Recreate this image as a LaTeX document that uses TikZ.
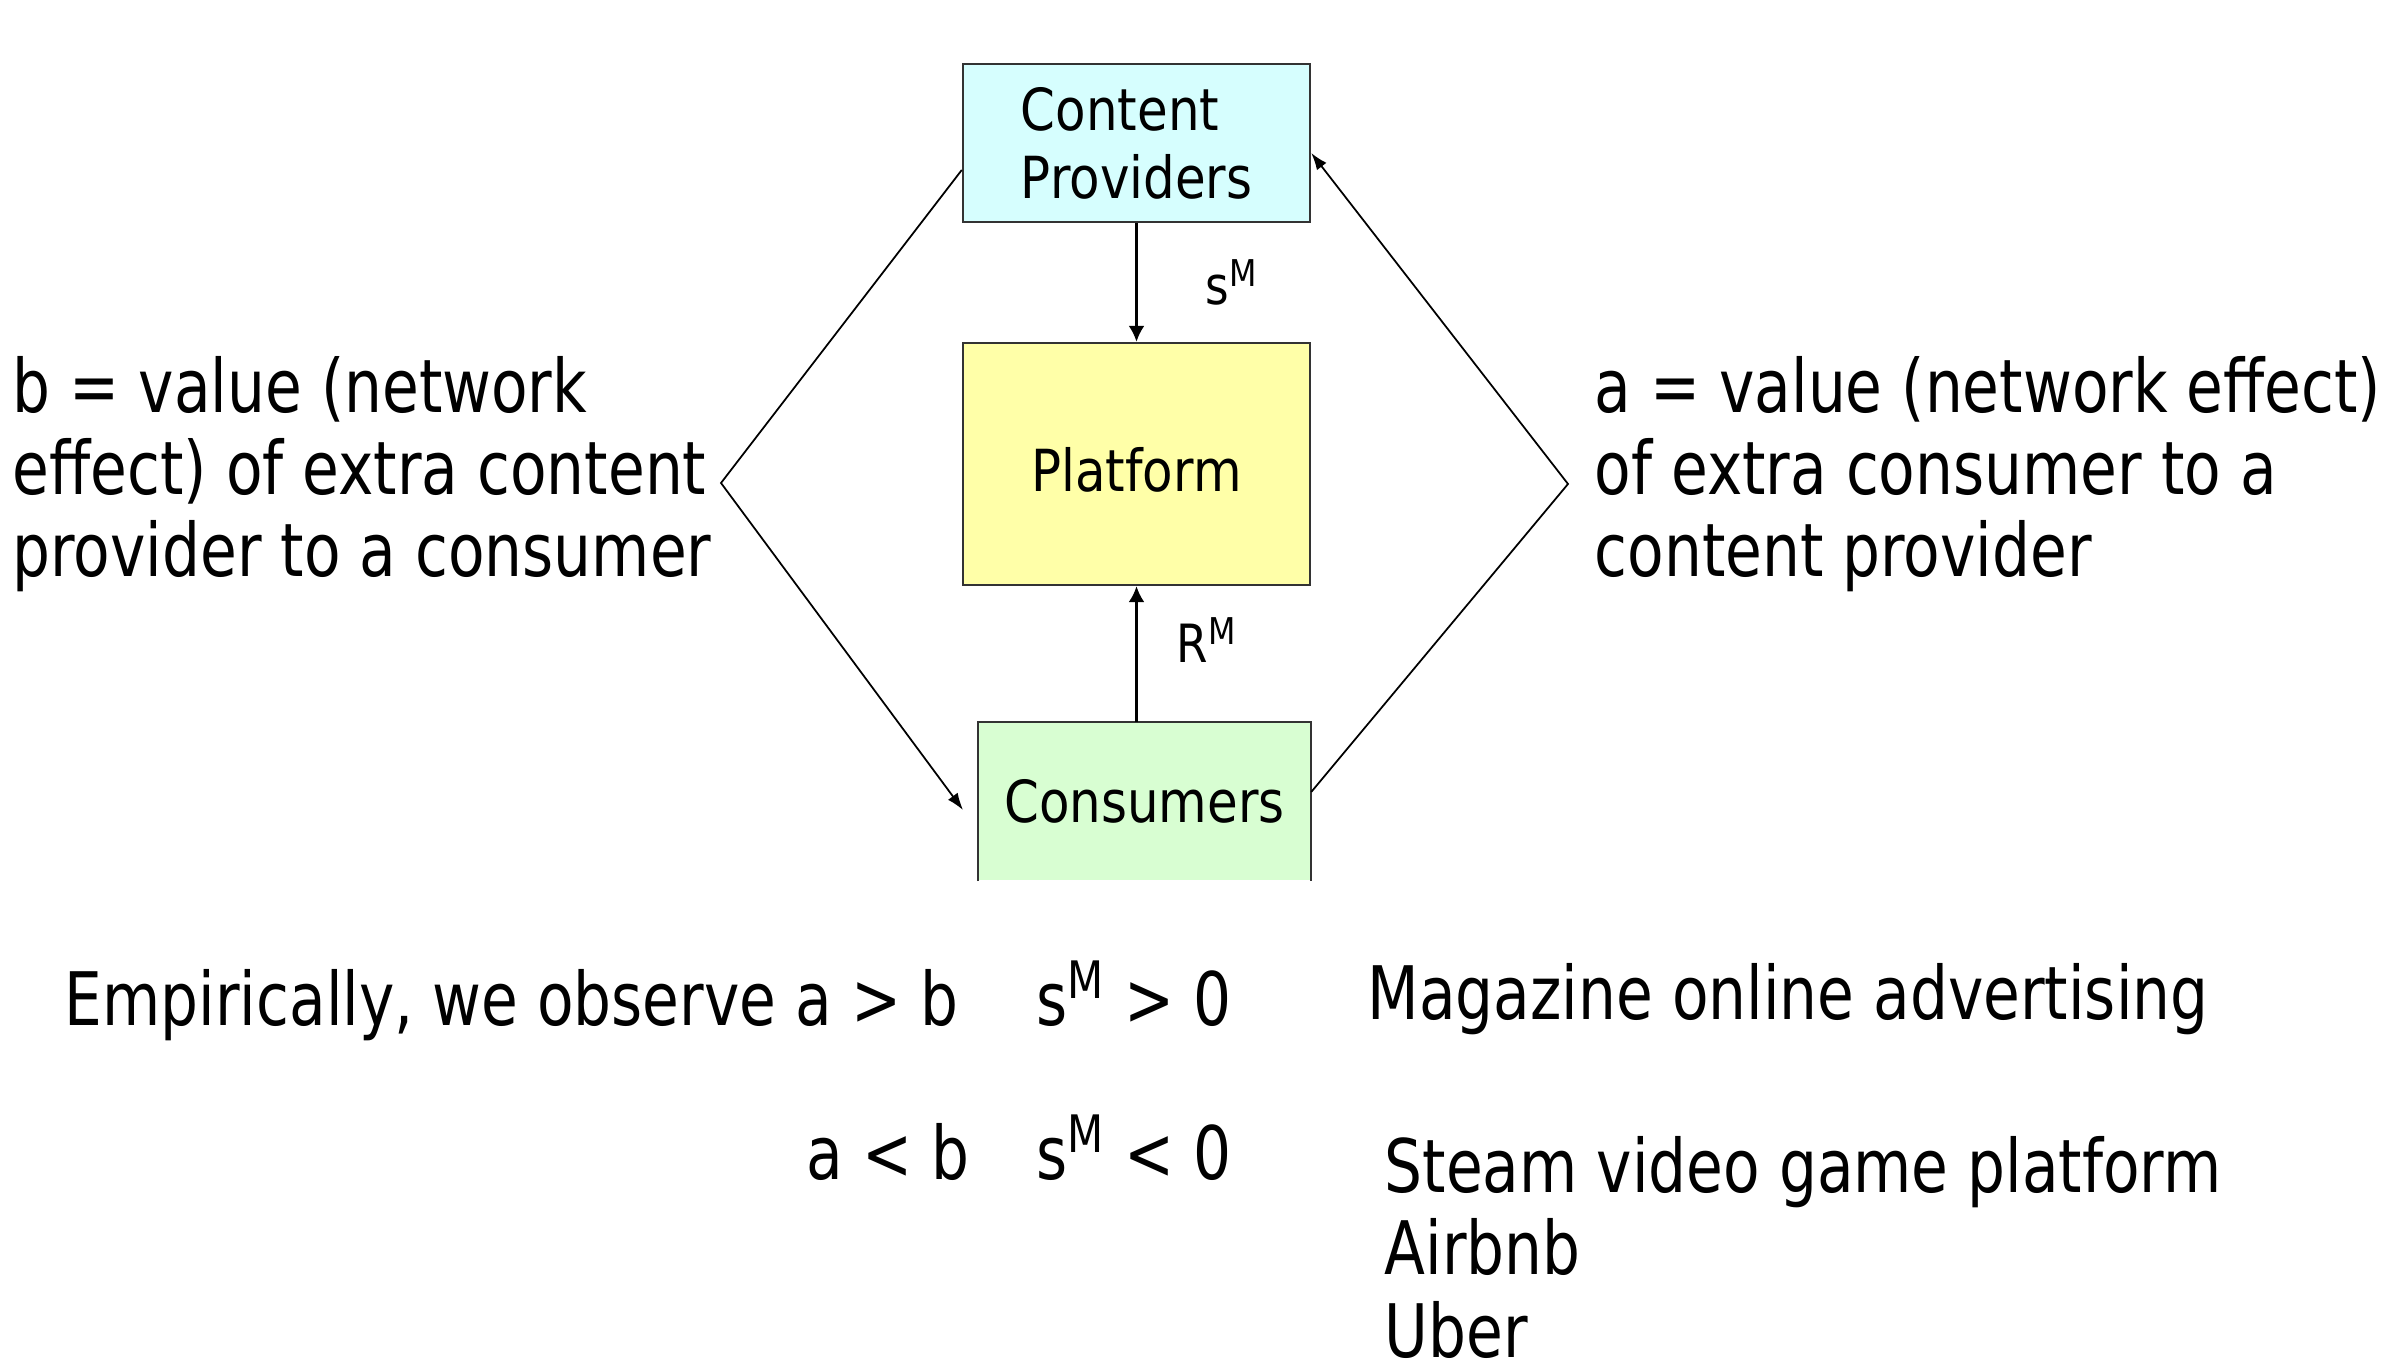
\documentclass[tikz,border=0pt]{standalone}
\usepackage{fontspec}
\setmainfont{DejaVu Sans}[FakeStretch=0.81]
\newfontfamily\boxfont{DejaVu Sans}[FakeStretch=0.86]
\usetikzlibrary{arrows.meta}

\definecolor{provcyan}{HTML}{D6FEFE}
\definecolor{platyellow}{HTML}{FFFFA8}
\definecolor{consgreen}{HTML}{D8FED2}

\begin{document}
\begin{tikzpicture}[x=0.1mm, y=-0.1mm,
		box/.style={draw=black!80, line width=0.7pt, inner sep=0pt, align=left,
			font=\boxfont\fontsize{16.5}{19.3}\selectfont},
		boxline/.style={draw=black!80, line width=0.7pt},
		conn/.style={-{Latex[length=1.6mm, width=1.6mm]}, line width=0.65pt},
		side/.style={line width=0.5pt},
		txt/.style={anchor=base west, inner sep=0pt, align=left,
			font=\fontsize{21}{23.4}\selectfont},
		lbl/.style={anchor=base west, inner sep=0pt, font=\boxfont\fontsize{15}{17}\selectfont}]
		\useasboundingbox[fill=white] (0, 0) rectangle (2394, 1368);

		% the three sides
		\node[box, fill=provcyan, minimum width=34.7mm, minimum height=15.8mm] (prov) at (1136.5, 143) {Content\\Providers};
		\node[box, fill=platyellow, minimum width=34.7mm, minimum height=24.2mm] (plat) at (1136.5, 464) {\raisebox{-2.8mm}[0pt][0pt]{Platform}};
		\node[box, draw=none, fill=consgreen, minimum width=33.1mm, minimum height=15.7mm] (cons) at (1144.5, 801.5) {Consumers};
		\draw[boxline] (cons.south west) -- (cons.north west) -- (cons.north east) -- (cons.south east);

		\draw[conn] (prov.south) -- (plat.north);
		\draw[conn] (cons.north -| plat.south) -- (plat.south);

		% network effects
		\coordinate (lv) at (721, 483);
		\coordinate (ltip) at (963, 810);
		\coordinate (rv) at (1568, 484);
		\draw[side, -{Latex[length=1.7mm, width=1.2mm]}] ([yshift=-2.7mm]prov.west) -- (lv) -- (ltip);
		\draw[side, -{Latex[length=1.7mm, width=1.2mm]}] ([yshift=0.95mm]cons.east) -- (rv) -- ([yshift=-1mm]prov.east);

		\node[lbl] (sm) at (1205, 305) {s\textsuperscript{M}};
		\node[lbl] (rm) at (1176, 663) {R\textsuperscript{M}};

		\node[txt] (btxt) at (12, 577) {b = value (network\\effect) of extra content\\provider to a consumer};
		\node[txt] (atxt) at (1594, 577) {a = value (network effect)\\of extra consumer to a\\content provider};

		% what is observed
		\node[txt] (emp) at (64, 1025) {Empirically, we observe a > b};
		\node[txt] (spos) at (1036, 1025) {s\textsuperscript{M} > 0};
		\node[txt] (aless) at (806, 1179) {a < b};
		\node[txt] (sneg) at (1036, 1179) {s\textsuperscript{M} < 0};
		\node[txt] (mag) at (1367, 1019) {Magazine online advertising};
		\node[txt] (steam) at (1384, 1357) {Steam video game platform\\Airbnb\\Uber};
\end{tikzpicture}
\end{document}
